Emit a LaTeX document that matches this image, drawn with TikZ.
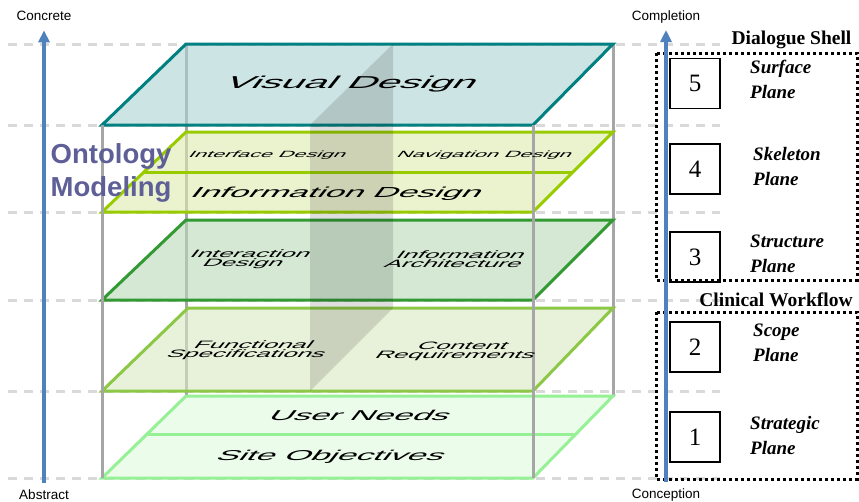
\documentclass[tikz,border=0pt]{standalone}
\usepackage{fontspec}
\setmainfont{Liberation Serif}
\setsansfont{Liberation Sans}
\usetikzlibrary{arrows.meta}

\definecolor{guidegray}{RGB}{217,217,217}
\definecolor{pillargray}{RGB}{166,166,166}
\definecolor{axisblue}{RGB}{79,129,189}
\definecolor{ontologyblue}{RGB}{95,95,152}
\definecolor{visualedge}{RGB}{0,128,128}
\definecolor{visualfill}{RGB}{170,210,210}
\definecolor{skeletonedge}{RGB}{153,204,0}
\definecolor{skeletonfill}{RGB}{220,233,173}
\definecolor{structureedge}{RGB}{51,153,51}
\definecolor{structurefill}{RGB}{183,217,183}
\definecolor{scopeedge}{RGB}{140,200,70}
\definecolor{scopefill}{RGB}{217,233,193}
\definecolor{strategyedge}{RGB}{150,240,150}
\definecolor{strategyfill}{RGB}{222,250,222}

\tikzset{
    guide/.style={draw=guidegray, line width=3pt, dash pattern=on 9pt off 7pt},
    pillar/.style={draw=pillargray, line width=3pt},
    plane/.style={line width=3pt, fill opacity=0.6},
    slab/.style={fill=black, fill opacity=0.13},
    planelabel/.style={inner sep=0pt, xslant=0.8, yscale=0.42},
    axis/.style={draw=axisblue, line width=3.5pt, -{Triangle[width=11pt,length=12pt]}},
    axislabel/.style={inner sep=0pt, font=\sffamily\fontsize{13.5}{15}\selectfont},
    levelbox/.style={draw, line width=1.2pt, minimum width=50pt, minimum height=50pt, inner sep=0pt, font=\fontsize{25}{30}\selectfont},
    levelname/.style={inner sep=0pt, anchor=west, align=left, font=\bfseries\itshape\fontsize{19}{25}\selectfont},
    groupbox/.style={draw, line width=3pt, dash pattern=on 3pt off 3pt},
    grouptitle/.style={inner sep=0pt, anchor=base, font=\bfseries\fontsize{19.5}{23}\selectfont},
}

\begin{document}
\begin{tikzpicture}[x=1pt,y=-1pt]
        \useasboundingbox (0,0) rectangle (859,501);

        \draw[guide] (8,44) -- (720,44);
        \draw[guide] (8,125) -- (720,125);
        \draw[guide] (8,212) -- (720,212);
        \draw[guide] (8,300) -- (720,300);
        \draw[guide] (8,391) -- (720,391);
        \draw[guide] (8,478) -- (720,478);

        \draw[pillar] (186,44) -- (186,396);
        \draw[pillar] (613,44) -- (613,397);

        \draw[plane, draw=visualedge, fill=visualfill] (186,44) -- (613,44) -- (533,125) -- (102,125) -- cycle;
        \draw[plane, draw=skeletonedge, fill=skeletonfill] (186,132) -- (613,132) -- (533,212) -- (102,212) -- cycle;
        \draw[skeletonedge, line width=3pt] (144,172) -- (573,172);
        \draw[plane, draw=structureedge, fill=structurefill] (186,220) -- (613,220) -- (533,300) -- (102,300) -- cycle;
        \draw[plane, draw=scopeedge, fill=scopefill] (188,308) -- (613,308) -- (533,391) -- (102,391) -- cycle;
        \draw[plane, draw=strategyedge, fill=strategyfill] (186,396) -- (613,396) -- (533,478) -- (102,478) -- cycle;
        \draw[strategyedge, line width=3pt] (147,434) -- (574,434);

        \fill[slab] (310,125) -- (393,44) -- (393,308) -- (310,391) -- cycle;

        \draw[pillar] (102,125) -- (102,478);
        \draw[pillar] (533,125) -- (533,478);

        \node[planelabel, anchor=base, font=\sffamily\fontsize{41}{41}\selectfont] (visual) at (348,88) {Visual Design};
        \node[planelabel, anchor=base, font=\sffamily\fontsize{21.5}{21.5}\selectfont] (interface) at (266,157) {Interface Design};
        \node[planelabel, anchor=base, font=\sffamily\fontsize{21.5}{21.5}\selectfont] (navigation) at (483,157) {Navigation Design};
        \node[planelabel, anchor=base, font=\sffamily\fontsize{34.5}{34.5}\selectfont] (information) at (334,197) {Information Design};
        \node[planelabel, align=center, font=\sffamily\fontsize{25.5}{22}\selectfont] (interaction) at (247,259) {Interaction\\Design};
        \node[planelabel, align=center, font=\sffamily\fontsize{25.5}{22}\selectfont] (architecture) at (458,259) {Information\\Architecture};
        \node[planelabel, align=center, font=\sffamily\fontsize{25.5}{22}\selectfont] (functional) at (250,350) {Functional\\Specifications};
        \node[planelabel, align=center, font=\sffamily\fontsize{25.5}{22}\selectfont] (content) at (459,351) {Content\\Requirements};
        \node[planelabel, anchor=base, font=\sffamily\fontsize{34}{34}\selectfont] (userneeds) at (357,420) {User Needs};
        \node[planelabel, anchor=base, font=\sffamily\fontsize{34}{34}\selectfont] (objectives) at (328,460) {Site Objectives};

        \node[inner sep=0pt, anchor=north west, align=left, text=ontologyblue, font=\sffamily\bfseries\fontsize{27.5}{33.4}\selectfont] (ontology) at (50.5,143.3) {Ontology\\Modeling};

        \draw[groupbox] (656,53) rectangle (857,280);
        \draw[groupbox] (656,312) rectangle (857,479);
        \node[grouptitle] (dialogue) at (791.5,44) {Dialogue Shell};
        \node[grouptitle] (clinical) at (776,306.5) {Clinical Workflow};

        \node[levelbox] (surfacebox) at (695,83.5) {5};
        \node[levelbox] (skeletonbox) at (695,169) {4};
        \node[levelbox] (structurebox) at (695,257) {3};
        \node[levelbox] (scopebox) at (695,347) {2};
        \node[levelbox] (strategicbox) at (695,437) {1};

        \node[levelname] (surface) at (750,79.3) {Surface\\Plane};
        \node[levelname] (skeleton) at (753,166.4) {Skeleton\\Plane};
        \node[levelname] (structure) at (750,254.3) {Structure\\Plane};
        \node[levelname] (scope) at (753,342.4) {Scope\\Plane};
        \node[levelname] (strategic) at (750,435.2) {Strategic\\Plane};

        \node[axislabel, anchor=base] (concrete) at (44,20) {Concrete};
        \node[axislabel, anchor=base] (abstract) at (44,499.5) {Abstract};
        \node[axislabel, anchor=base] (completion) at (666,20) {Completion};
        \node[axislabel, anchor=base] (conception) at (666,498.5) {Conception};

        \draw[axis, shorten <=7pt, shorten >=10pt] (abstract.north) -- (concrete.south);
        \draw[axis, shorten <=7pt, shorten >=7pt] (conception.north) -- (completion.south);
\end{tikzpicture}
\end{document}
